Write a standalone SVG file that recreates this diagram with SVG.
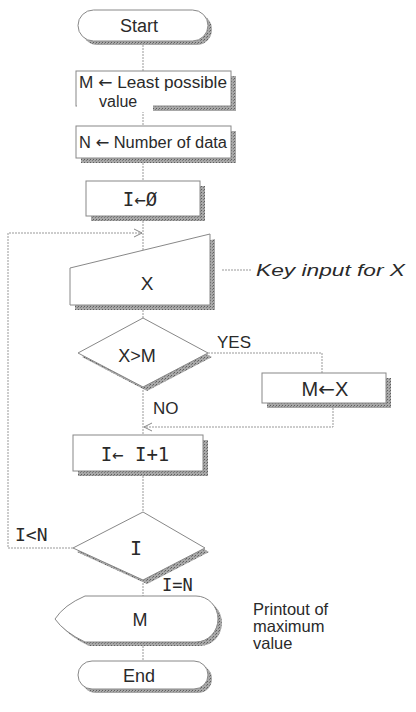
<svg xmlns="http://www.w3.org/2000/svg" width="416" height="712" viewBox="0 0 416 712">
<defs>
<pattern id="hatch" width="3" height="3" patternUnits="userSpaceOnUse">
<rect width="3" height="3" fill="#a8a8a8"/>
<rect width="1" height="1" fill="#5e5e5e"/>
<rect x="2" y="1" width="1" height="1" fill="#7a7a7a"/>
</pattern>
<marker id="arr" markerWidth="10" markerHeight="10" refX="9" refY="5" orient="auto" markerUnits="userSpaceOnUse">
<path d="M1,1 L9,5 L1,9" fill="none" stroke="#888" stroke-width="1"/>
</marker>
</defs>
<style>
.sh{fill:url(#hatch);}
.bx{fill:#fff;stroke:#888;stroke-width:1;}
.cn{fill:none;stroke:#999;stroke-width:1;stroke-dasharray:2 1;}
.t{font-family:"Liberation Sans","DejaVu Sans",sans-serif;fill:#2a2a2a;}
.m{font-family:"DejaVu Sans Mono","Liberation Mono",monospace;fill:#2a2a2a;}
.a{font-family:"DejaVu Sans",sans-serif;}
.note{font-family:"Liberation Sans","DejaVu Sans",sans-serif;fill:#2a2a2a;font-size:16.5px;}
</style>

<g id="connectors">
<path class="cn" d="M143,45 V71"/>
<path class="cn" d="M143,111 V126"/>
<path class="cn" d="M143,163 V181"/>
<path class="cn" d="M143,221 V250"/>
<path class="cn" d="M73,548 H8 V233 H142" marker-end="url(#arr)"/>
<path class="cn" d="M143,310 V318"/>
<path class="cn" d="M208,353 H322 V373"/>
<path class="cn" d="M333,408 V427 H144" marker-end="url(#arr)"/>
<path class="cn" d="M143,387 V435"/>
<path class="cn" d="M143,476 V512"/>
<path class="cn" d="M143,580 V596"/>
<path class="cn" d="M143,646 V661"/>
<path class="cn" d="M222,270 H252"/>
</g>

<g id="start">
<rect class="sh" x="82" y="14" width="130" height="31" rx="15.5"/>
<rect class="bx" x="78" y="10" width="130" height="31" rx="15.5"/>
<text class="t" x="139" y="32" font-size="18" text-anchor="middle">Start</text>
</g>

<g id="init-m">
<rect class="sh" x="81" y="76" width="155" height="35"/>
<rect class="bx" x="76" y="71" width="155" height="35"/>
<rect x="77" y="100" width="76" height="12" fill="#fff"/>
<text class="t" x="79" y="88" font-size="16" textLength="148" lengthAdjust="spacingAndGlyphs">M <tspan class="a">←</tspan> Least possible</text>
<text class="t" x="99" y="107" font-size="16">value</text>
</g>

<g id="init-n">
<rect class="sh" x="81" y="131" width="155" height="32"/>
<rect class="bx" x="76" y="126" width="155" height="32"/>
<text class="t" x="79" y="148" font-size="16" textLength="148" lengthAdjust="spacingAndGlyphs">N <tspan class="a">←</tspan> Number of data</text>
</g>

<g id="init-i">
<rect class="sh" x="91" y="186" width="114" height="35"/>
<rect class="bx" x="86" y="181" width="114" height="35"/>
<text class="m" x="140" y="206" font-size="19" text-anchor="middle">I←Ø</text>
</g>

<g id="input-x">
<polygon class="sh" points="75,273 215,239 215,310 75,310"/>
<polygon class="bx" points="70,268 210,234 210,305 70,305"/>
<text class="t" x="147" y="290" font-size="19" text-anchor="middle">X</text>
<text class="note" x="256" y="276" font-style="italic" fill="#707070" textLength="149" lengthAdjust="spacingAndGlyphs">Key input for X</text>
</g>

<g id="cmp-xm">
<polygon class="sh" points="82,357 147,322 212,357 147,391"/>
<polygon class="bx" points="78,353 143,318 208,353 143,387"/>
<text class="t" x="137" y="362" font-size="18" text-anchor="middle">X&gt;M</text>
<text class="t" x="217" y="348" font-size="17">YES</text>
<text class="t" x="153" y="414" font-size="17">NO</text>
</g>

<g id="set-m">
<rect class="sh" x="267" y="378" width="124" height="30"/>
<rect class="bx" x="262" y="373" width="124" height="30"/>
<text class="t" x="325" y="396" font-size="20" text-anchor="middle">M<tspan class="a">←</tspan>X</text>
</g>

<g id="inc-i">
<rect class="sh" x="78" y="440" width="130" height="36"/>
<rect class="bx" x="73" y="435" width="130" height="36"/>
<text class="m" x="135" y="461" font-size="19" text-anchor="middle">I← I+1</text>
</g>

<g id="cmp-i">
<polygon class="sh" points="77,552 147,516 209,552 147,584"/>
<polygon class="bx" points="73,548 143,512 205,548 143,580"/>
<text class="m" x="136" y="555" font-size="20" text-anchor="middle">I</text>
<text class="m" x="15" y="541" font-size="18">I&lt;N</text>
<text class="m" x="162" y="591" font-size="17">I=N</text>
</g>

<g id="output-m">
<path class="sh" d="M89,600 H200 A22,23 0 0 1 200,646 H89 Q68,636 59,623 Q68,609 89,600 Z"/>
<path class="bx" d="M85,596 H196 A22,23 0 0 1 196,642 H85 Q64,632 55,619 Q64,605 85,596 Z"/>
<text class="t" x="140" y="626" font-size="18" text-anchor="middle">M</text>
<text class="note" x="253" y="615">Printout of</text>
<text class="note" x="253" y="632">maximum</text>
<text class="note" x="253" y="649">value</text>
</g>

<g id="end">
<rect class="sh" x="82" y="665" width="130" height="28" rx="14"/>
<rect class="bx" x="78" y="661" width="130" height="28" rx="14"/>
<text class="t" x="139" y="682" font-size="18" text-anchor="middle">End</text>
</g>
</svg>
